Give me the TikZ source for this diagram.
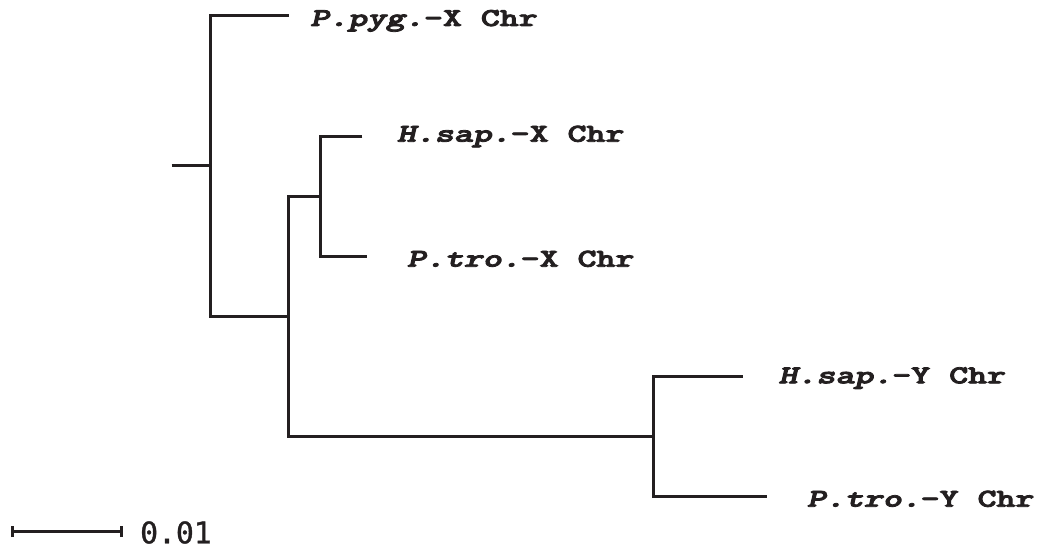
\documentclass[tikz,border=0pt]{standalone}
\usepackage{fontspec}
\usepackage{graphicx}
\newfontfamily\sbarfont{DejaVu Sans Mono}[FakeBold=1.2]
\newfontfamily\courfont{lmmonolt10-bold.otf}[ItalicFont=lmmonolt10-boldoblique.otf, FakeBold=3]
\definecolor{ink}{RGB}{35,31,32}
\newcommand{\leaflab}[2]{\scalebox{1.40}[1]{\fontsize{25.8}{30}\courfont{\itshape #1}#2}}
\begin{document}
\begin{tikzpicture}[x=1pt,y=-1pt,
  branch/.style={draw=ink,line width=3pt},
  leaf/.style={anchor=base west,inner sep=0pt,text=ink},
  scalelab/.style={anchor=base west,inner sep=0pt,text=ink,font=\fontsize{29.7}{34}\sbarfont}]
\useasboundingbox (0,0) rectangle (1040,551);
% internal nodes and tips
\coordinate (r0) at (171.5,165.7);
\coordinate (n1) at (210.5,165.7);
\coordinate (n2) at (288.5,316.7);
\coordinate (n3) at (320,196.7);
\coordinate (n4) at (653.5,436.7);
\coordinate (tpyg) at (288.5,15.7);
\coordinate (thsx) at (362.3,136.7);
\coordinate (tptx) at (367.3,256.7);
\coordinate (thsy) at (742.7,376.7);
\coordinate (tpty) at (766.7,496.7);
% branches
\draw[branch] (r0) -- (n1);
\draw[branch] (tpyg) -| (n1) |- (n2);
\draw[branch] (n3) -| (n2) |- (n4);
\draw[branch] (thsx) -| (n3) |- (tptx);
\draw[branch] (thsy) -| (n4) |- (tpty);
% labels
\node[leaf] (lpyg) at (310,26) {\leaflab{P.pyg.}{-X Chr}};
\node[leaf] (lhsx) at (396.7,141.7) {\leaflab{H.sap.}{-X Chr}};
\node[leaf] (lptx) at (406.7,266.7) {\leaflab{P.tro.}{-X Chr}};
\node[leaf] (lhsy) at (778.3,383.3) {\leaflab{H.sap.}{-Y Chr}};
\node[leaf] (lpty) at (806.7,506.7) {\leaflab{P.tro.}{-Y Chr}};
% scale bar
\coordinate (s0) at (12,531.7);
\coordinate (s1) at (121,531.7);
\draw[branch] (s0) -- (s1);
\draw[branch] ([yshift=-5.5pt]s0) -- ([yshift=5.5pt]s0);
\draw[branch] ([yshift=-5.5pt]s1) -- ([yshift=5.5pt]s1);
\node[scalelab] (sl) at (140,543.3) {0.01};
\end{tikzpicture}
\end{document}
